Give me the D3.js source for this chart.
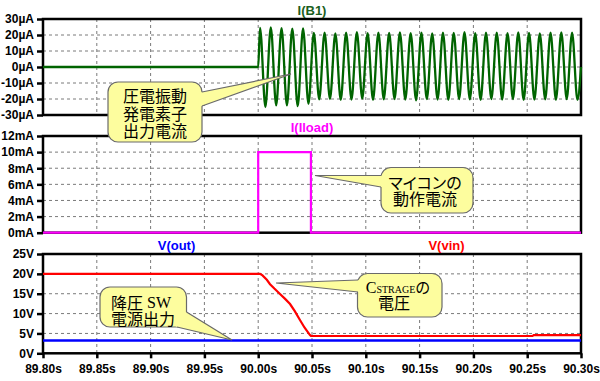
<!DOCTYPE html>
<html><head><meta charset="utf-8">
<script src="https://cdn.jsdelivr.net/npm/d3@7"></script>
<style>body{margin:0;background:#fff}svg{display:block}</style></head>
<body><svg id="c" width="600" height="381"></svg>
<script>
// ---------- data ----------
const xTicks = [89.80, 89.85, 89.90, 89.95, 90.00, 90.05, 90.10, 90.15, 90.20, 90.25, 90.30];
const xTickLabels = ["89.80s","89.85s","89.90s","89.95s","90.00s","90.05s","90.10s","90.15s","90.20s","90.25s","90.30s"];

const b1Ticks = [-30, -20, -10, 0, 10, 20, 30];
const b1TickLabels = ["-30µA","-20µA","-10µA","0µA","10µA","20µA","30µA"];
const iloadTicks = [0, 2, 4, 6, 8, 10, 12];
const iloadTickLabels = ["0mA","2mA","4mA","6mA","8mA","10mA","12mA"];
const vTicks = [0, 5, 10, 15, 20, 25];
const vTickLabels = ["0V","5V","10V","15V","20V","25V"];

// I(B1): zero before 90.00s, then a 100 Hz oscillation; peak / trough of each cycle (µA)
const b1Start = 90.00;
const b1FirstPeak = 90.0017;
const b1Period = 0.01;
const b1Peaks = [24.5, 24.8, 24.3, 24.0, 24.2, 21.3, 21.5, 21.0, 21.4, 21.8, 21.2, 21.5, 21.3, 21.6, 21.2,
                 21.4, 21.0, 21.5, 21.3, 21.8, 21.2, 21.4, 21.5, 21.2, 21.6, 21.3, 21.0, 21.4, 21.6, 21.5];
const b1Troughs = [-25.0, -24.0, -24.0, -24.5, -23.0, -20.2, -20.0, -20.5, -20.3, -19.8, -20.6, -20.2, -20.0, -20.4, -20.8,
                   -20.1, -20.3, -20.6, -20.0, -20.2, -20.5, -20.1, -20.3, -20.0, -20.6, -20.4, -20.2, -20.5, -20.1, -20.6];

// I(Iload) in mA
const iloadTimes  = [89.80, 90.00, 90.00, 90.049, 90.049, 90.30];
const iloadValues = [0, 0, 10, 10, 0, 0];

// V(vin) in V
const vinTimes  = [89.80, 90.0017, 90.004, 90.008, 90.011, 90.015, 90.020, 90.025, 90.0296, 90.034, 90.0388, 90.043, 90.0481, 90.049, 90.255, 90.256, 90.30];
const vinValues = [20, 20, 19.6, 18.5, 17.4, 16.3, 15.0, 13.7, 12.4, 10.6, 8.4, 6.5, 4.6, 4.35, 4.35, 4.6, 4.6];

// V(out) in V
const voutTimes  = [89.80, 90.30];
const voutValues = [3.2, 3.2];

// ---------- drawing ----------
const svg = d3.select("#c");
const X0 = 43, X1 = 581;
const x = d3.scaleLinear().domain([89.80, 90.30]).range([X0, X1]);

const panels = [
  {y: d3.scaleLinear().domain([-30, 30]).range([115, 19]), ticks: b1Ticks, labels: b1TickLabels},
  {y: d3.scaleLinear().domain([0, 12]).range([232.7, 136]), ticks: iloadTicks, labels: iloadTickLabels},
  {y: d3.scaleLinear().domain([0, 25]).range([353.3, 254]), ticks: vTicks, labels: vTickLabels}
];

const axisFont = "'Liberation Sans', Arial, sans-serif";

panels.forEach(p => {
  const [yb, yt] = p.y.range();
  const g = svg.append("g");
  g.selectAll(".vg").data(xTicks.slice(1, -1)).join("line")
    .attr("x1", d => x(d)).attr("x2", d => x(d)).attr("y1", yt).attr("y2", yb)
    .attr("stroke", "#7a7a7a").attr("stroke-width", 1).attr("stroke-dasharray", "3,3");
  g.selectAll(".hg").data(p.ticks.slice(1, -1)).join("line")
    .attr("x1", X0).attr("x2", X1).attr("y1", d => p.y(d)).attr("y2", d => p.y(d))
    .attr("stroke", "#7a7a7a").attr("stroke-width", 1).attr("stroke-dasharray", "3,3");
  g.append("rect").attr("x", X0).attr("y", yt).attr("width", X1 - X0).attr("height", yb - yt)
    .attr("fill", "none").attr("stroke", "#000").attr("stroke-width", 2.5);
  const ax = d3.axisLeft(p.y).tickValues(p.ticks).tickSize(6).tickPadding(3)
    .tickFormat((d, i) => p.labels[i]);
  const ag = g.append("g").attr("transform", `translate(${X0},0)`).call(ax);
  ag.select(".domain").remove();
  ag.selectAll(".tick line").attr("stroke", "#000").attr("stroke-width", 2.5);
  ag.selectAll(".tick text").attr("fill", "#000").style("font-family", axisFont)
    .style("font-weight", "bold").style("font-size", "12px");
});

const xa = d3.axisBottom(x).tickValues(xTicks).tickSize(5).tickPadding(6)
  .tickFormat((d, i) => xTickLabels[i]);
const xg = svg.append("g").attr("transform", `translate(0,${panels[2].y.range()[0]})`).call(xa);
xg.select(".domain").remove();
xg.selectAll(".tick line").attr("stroke", "#000").attr("stroke-width", 2.5);
xg.selectAll(".tick text").attr("fill", "#000").style("font-family", axisFont)
  .style("font-weight", "bold").style("font-size", "12px");

// ---- series ----
const b1Pts = [[89.80, 0], [b1Start, 0]];
b1Peaks.forEach((v, k) => {
  b1Pts.push([b1FirstPeak + k * b1Period, v]);
  b1Pts.push([b1FirstPeak + k * b1Period + b1Period / 2, b1Troughs[k]]);
});
b1Pts.push([90.30, 0]);
svg.append("path").datum(b1Pts)
  .attr("d", d3.line().x(d => x(d[0])).y(d => panels[0].y(d[1])).curve(d3.curveMonotoneX))
  .attr("fill", "none").attr("stroke", "#006400").attr("stroke-width", 2.3);

svg.append("path").datum(iloadTimes.map((t, i) => [t, iloadValues[i]]))
  .attr("d", d3.line().x(d => x(d[0])).y(d => panels[1].y(d[1])))
  .attr("fill", "none").attr("stroke", "#ff00ff").attr("stroke-width", 2.2);

svg.append("path").datum(vinTimes.map((t, i) => [t, vinValues[i]]))
  .attr("d", d3.line().x(d => x(d[0])).y(d => panels[2].y(d[1])))
  .attr("fill", "none").attr("stroke", "#ff0000").attr("stroke-width", 2.2);

svg.append("path").datum(voutTimes.map((t, i) => [t, voutValues[i]]))
  .attr("d", d3.line().x(d => x(d[0])).y(d => panels[2].y(d[1])))
  .attr("fill", "none").attr("stroke", "#0000ff").attr("stroke-width", 2.5);

// ---- titles ----
const titles = [
  {t: "I(B1)", x: 312, y: 10, c: "#1b5e20"},
  {t: "I(Iload)", x: 312, y: 127, c: "#ff00ff"},
  {t: "V(out)", x: 176.5, y: 245, c: "#0000ff"},
  {t: "V(vin)", x: 446.5, y: 245, c: "#ff0000"}
];
svg.selectAll(".title").data(titles).join("text")
  .attr("x", d => d.x).attr("y", d => d.y).attr("text-anchor", "middle")
  .attr("dominant-baseline", "central").attr("fill", d => d.c)
  .style("font-family", axisFont).style("font-weight", "bold").style("font-size", "13px")
  .text(d => d.t);

// ---- callouts ----
const jp = "'Noto Sans CJK JP', sans-serif";
const serif = "'Liberation Serif', 'DejaVu Serif', serif";
function callout(r, b1, tip, b2) {
  const g = svg.append("g");
  g.append("rect").attr("x", r.x).attr("y", r.y).attr("width", r.w).attr("height", r.h)
    .attr("rx", 10).attr("ry", 10).attr("fill", "#fdfd9e").attr("stroke", "#6a6a6a").attr("stroke-width", 1.2);
  const cx = r.x + r.w / 2, cy = r.y + r.h / 2;
  const inward = p => {
    const dx = cx - p[0], dy = cy - p[1], l = Math.hypot(dx, dy);
    return [p[0] + dx / l * 4, p[1] + dy / l * 4];
  };
  g.append("path").attr("d", d3.line()([b1, tip, b2, inward(b2), inward(b1)]) + "Z")
    .attr("fill", "#fdfd9e").attr("stroke", "none");
  g.append("path").attr("d", d3.line()([b1, tip, b2]))
    .attr("fill", "none").attr("stroke", "#6a6a6a").attr("stroke-width", 1.2);
  return g;
}

// 1
const c1 = callout({x: 108, y: 82, w: 94, h: 60}, [202, 92], [291, 74], [202, 106]);
const t1 = c1.append("text").attr("text-anchor", "middle").attr("dominant-baseline", "central")
  .style("font-family", jp).style("font-size", "16px").attr("fill", "#000");
["圧電振動", "発電素子", "出力電流"].forEach((s, i) => {
  t1.append("tspan").attr("x", 155).attr("y", 95 + i * 17.5).text(s);
});

// 2
const c2 = callout({x: 381, y: 167.5, w: 92, h: 45.5}, [381, 175.5], [315, 175.5], [381, 187]);
const t2 = c2.append("text").attr("text-anchor", "middle").attr("dominant-baseline", "central")
  .style("font-family", jp).style("font-size", "16px").style("font-feature-settings", "'palt'").attr("fill", "#000");
["マイコンの", "動作電流"].forEach((s, i) => {
  t2.append("tspan").attr("x", 425).attr("y", 181.5 + i * 16.5).text(s);
});

// 3
const c3 = callout({x: 100, y: 287, w: 86.5, h: 40}, [186.5, 312], [232, 340], [177, 327]);
const t3 = c3.append("text").attr("dominant-baseline", "central").style("font-size", "16px").attr("fill", "#000");
t3.append("tspan").attr("x", 111).attr("y", 301.5).style("font-family", jp).text("降圧");
t3.append("tspan").style("font-family", serif).text(" SW");
t3.append("tspan").attr("x", 111).attr("y", 317.5).style("font-family", jp).text("電源出力");

// 4
const c4 = callout({x: 357.5, y: 273.5, w: 84.5, h: 43.5}, [358, 280], [276, 283], [358, 292]);
const t4 = c4.append("text").attr("text-anchor", "middle").attr("fill", "#000");
t4.append("tspan").attr("x", 398).attr("y", 292.5).style("font-family", serif).style("font-size", "16px").text("C");
t4.append("tspan").style("font-family", serif).style("font-size", "10px").text("STRAGE");
t4.append("tspan").style("font-family", jp).style("font-size", "15px").text("の");
t4.append("tspan").attr("x", 394).attr("y", 309).style("font-family", jp).style("font-size", "16px").text("電圧");
</script>
</body></html>
